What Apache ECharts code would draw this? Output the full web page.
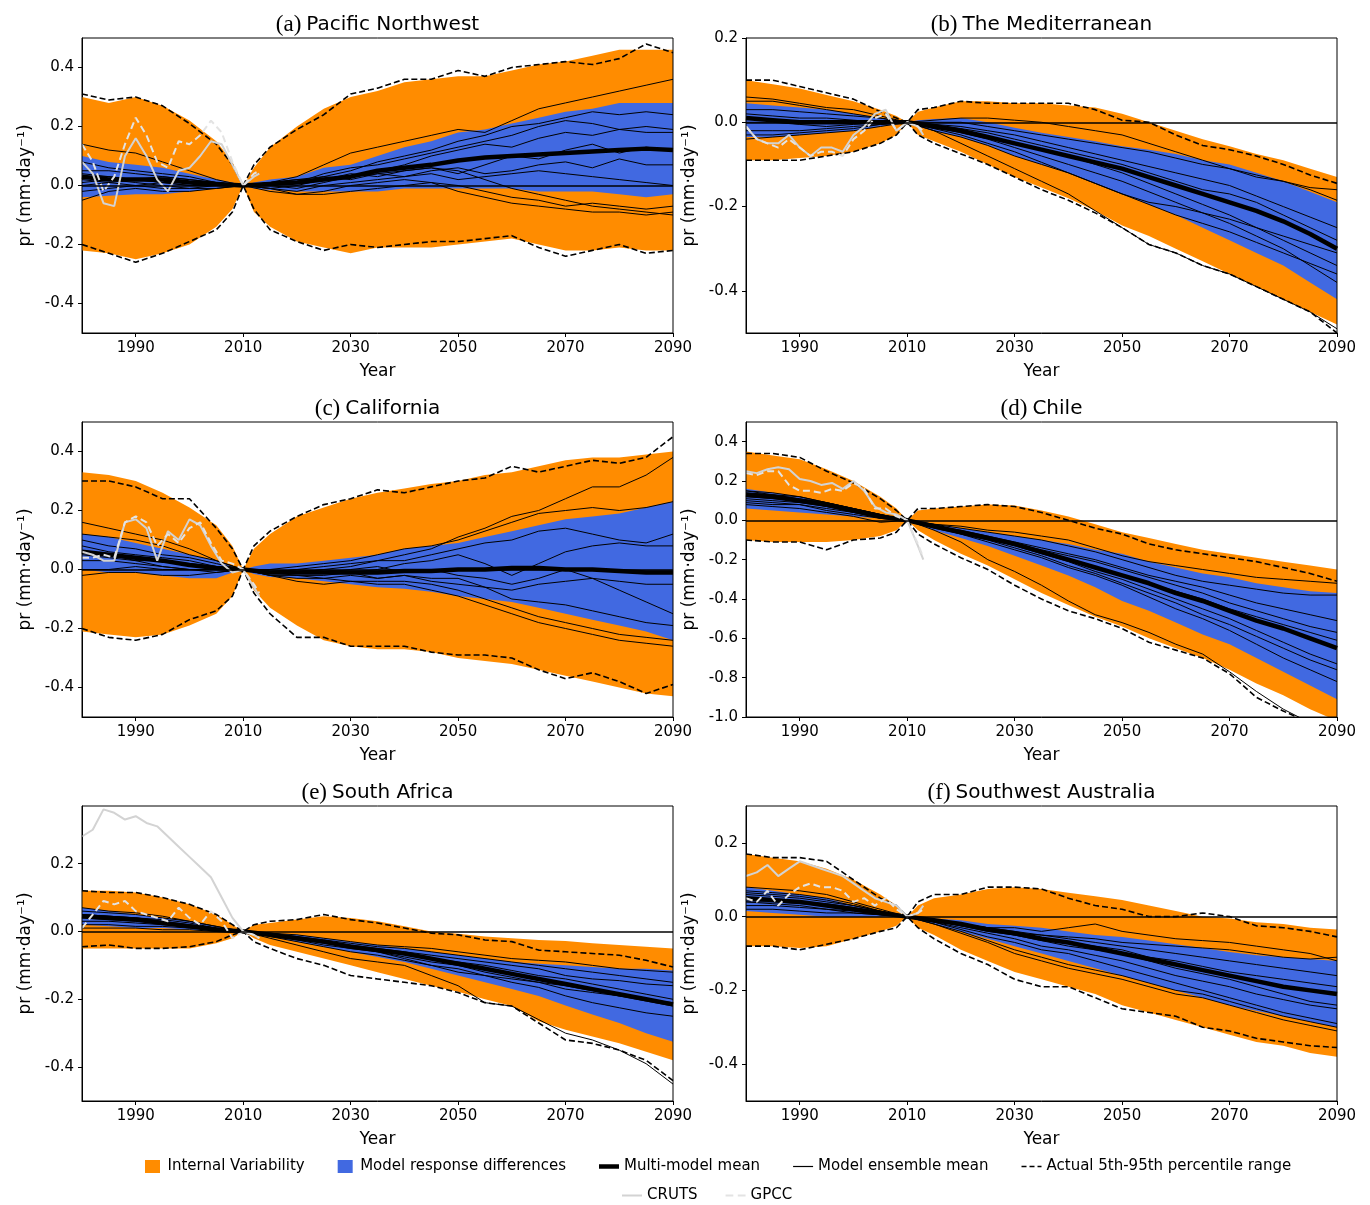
<!DOCTYPE html>
<html>
<head>
<meta charset="utf-8">
<script src="https://cdn.jsdelivr.net/npm/echarts@6/dist/echarts.min.js"></script>
<style>html,body{margin:0;padding:0;background:#fff}#chart{width:1370px;height:1205px}</style>
</head>
<body>
<div id="chart"></div>
<script>
// ---------- shared x grids ----------
const bandYears = [1980,1985,1990,1995,2000,2005,2008,2010,2012,2015,2020,2025,2030,2035,2040,2045,2050,2055,2060,2065,2070,2075,2080,2085,2090];
const lineYears = [1980,1985,1990,1995,2000,2005,2010,2015,2020,2025,2030,2035,2040,2045,2050,2055,2060,2065,2070,2075,2080,2085,2090];
const obsYears = [1980,1982,1984,1986,1988,1990,1992,1994,1996,1998,2000,2002,2004,2006,2008,2010,2012,2013];
const xTicks = [1990,2010,2030,2050,2070,2090];

// ---------- (a) Pacific Northwest ----------
const aIVUp = [0.30,0.28,0.30,0.27,0.22,0.15,0.08,0,0.06,0.13,0.20,0.26,0.30,0.32,0.35,0.36,0.37,0.37,0.39,0.41,0.42,0.44,0.46,0.46,0.46];
const aIVLo = [-0.22,-0.23,-0.25,-0.23,-0.20,-0.14,-0.08,0,-0.09,-0.14,-0.19,-0.21,-0.23,-0.21,-0.21,-0.21,-0.20,-0.19,-0.18,-0.20,-0.22,-0.22,-0.21,-0.22,-0.22];
const aMRUp = [0.10,0.08,0.07,0.06,0.04,0.02,0.01,0,0.01,0.02,0.03,0.06,0.07,0.10,0.13,0.15,0.18,0.19,0.21,0.23,0.25,0.26,0.28,0.28,0.28];
const aMRLo = [-0.04,-0.035,-0.03,-0.03,-0.02,-0.01,-0.005,0,-0.01,-0.015,-0.02,-0.02,-0.02,-0.02,-0.01,-0.01,-0.01,-0.01,-0.01,-0.02,-0.02,-0.02,-0.03,-0.04,-0.03];
const aDashUp = [0.31,0.29,0.30,0.27,0.21,0.14,0.07,0,0.07,0.13,0.19,0.24,0.31,0.33,0.36,0.36,0.39,0.37,0.40,0.41,0.42,0.41,0.43,0.48,0.45];
const aDashLo = [-0.20,-0.23,-0.26,-0.23,-0.19,-0.15,-0.09,0,-0.08,-0.15,-0.19,-0.22,-0.20,-0.21,-0.20,-0.19,-0.19,-0.18,-0.17,-0.21,-0.24,-0.22,-0.20,-0.23,-0.22];
const aMean = [0.03,0.02,0.02,0.02,0.01,0.005,0,0.005,0.01,0.02,0.03,0.05,0.06,0.07,0.085,0.095,0.10,0.105,0.11,0.115,0.12,0.125,0.12];
const aModels = [
  [0.14,0.12,0.11,0.08,0.05,0.02,0,0.01,0.03,0.07,0.11,0.13,0.15,0.17,0.19,0.18,0.22,0.26,0.28,0.30,0.32,0.34,0.36],
  [0.08,0.06,0.05,0.04,0.03,0.01,0,0.01,0.02,0.03,0.05,0.08,0.10,0.12,0.15,0.17,0.20,0.21,0.23,0.25,0.24,0.25,0.24],
  [0.05,0.05,0.04,0.03,0.02,0.01,0,0.0,0.01,0.04,0.06,0.07,0.09,0.11,0.13,0.15,0.17,0.20,0.22,0.21,0.19,0.20,0.19],
  [0.03,0.03,0.02,0.03,0.02,0.01,0,-0.01,0.00,0.02,0.03,0.05,0.07,0.10,0.12,0.14,0.13,0.16,0.18,0.17,0.19,0.18,0.18],
  [0.02,0.01,0.02,0.01,0.01,0.0,0,0.01,0.02,0.02,0.04,0.03,0.05,0.06,0.04,0.07,0.10,0.09,0.12,0.14,0.11,0.13,0.12],
  [0.0,0.01,0.0,0.01,0.0,0.0,0,0.0,0.01,0.03,0.02,0.04,0.03,0.05,0.06,0.04,0.05,0.07,0.08,0.06,0.09,0.07,0.07],
  [-0.02,-0.01,0.0,-0.01,-0.01,0.0,0,-0.01,-0.02,0.0,0.01,0.02,0.03,0.04,0.02,0.03,0.04,0.05,0.04,0.03,0.02,0.01,0.0],
  [-0.05,-0.02,-0.01,-0.02,-0.02,-0.01,0,-0.01,-0.03,-0.03,-0.02,-0.01,0.0,0.01,0.0,-0.02,-0.04,-0.05,-0.07,-0.06,-0.07,-0.08,-0.07],
  [0.01,0.02,0.01,0.0,-0.01,-0.01,0,-0.02,-0.03,-0.02,0.0,0.01,0.02,0.01,-0.02,-0.04,-0.06,-0.07,-0.08,-0.09,-0.09,-0.10,-0.09],
  [0.04,0.03,0.02,0.01,0.0,0.0,0,0.0,-0.01,0.01,0.03,0.04,0.05,0.06,0.05,0.02,-0.01,-0.03,-0.05,-0.07,-0.08,-0.09,-0.10]
];
const aCRUTS = [0.08,0.04,-0.06,-0.07,0.10,0.16,0.10,0.02,-0.02,0.05,0.06,0.10,0.15,0.14,0.07,0.0,0.03,0.04];
const aGPCC = [0.14,0.08,-0.02,0.03,0.14,0.23,0.17,0.08,0.06,0.15,0.14,0.17,0.22,0.18,0.08,0.0,0.04,0.05];
const aYTicks = [-0.4,-0.2,0,0.2,0.4];

// ---------- (b) The Mediterranean ----------
const bIVUp = [0.10,0.09,0.08,0.065,0.05,0.03,0.015,0,0.025,0.035,0.05,0.05,0.045,0.045,0.04,0.035,0.02,0.0,-0.02,-0.04,-0.057,-0.075,-0.09,-0.11,-0.13];
const bIVLo = [-0.09,-0.09,-0.085,-0.08,-0.07,-0.05,-0.03,0,-0.03,-0.045,-0.07,-0.10,-0.13,-0.155,-0.18,-0.21,-0.245,-0.27,-0.30,-0.33,-0.36,-0.39,-0.42,-0.45,-0.48];
const bMRUp = [0.045,0.04,0.035,0.03,0.02,0.01,0.005,0,0.005,0.008,0.01,0.0,-0.013,-0.025,-0.035,-0.045,-0.057,-0.065,-0.075,-0.09,-0.10,-0.12,-0.14,-0.165,-0.19];
const bMRLo = [-0.035,-0.035,-0.03,-0.025,-0.02,-0.01,-0.005,0,-0.01,-0.02,-0.035,-0.055,-0.08,-0.10,-0.12,-0.145,-0.17,-0.195,-0.22,-0.25,-0.28,-0.31,-0.34,-0.38,-0.42];
const bDashUp = [0.10,0.10,0.085,0.07,0.055,0.025,0.01,0,0.03,0.035,0.05,0.045,0.045,0.045,0.045,0.03,0.005,0.0,-0.03,-0.055,-0.065,-0.08,-0.10,-0.125,-0.145];
const bDashLo = [-0.09,-0.09,-0.09,-0.08,-0.07,-0.05,-0.03,0,-0.03,-0.05,-0.075,-0.10,-0.13,-0.16,-0.185,-0.215,-0.25,-0.29,-0.31,-0.34,-0.36,-0.39,-0.42,-0.45,-0.50];
const bMean = [0.01,0.005,0.0,0.0,0.0,0.0,0,-0.01,-0.02,-0.035,-0.05,-0.065,-0.08,-0.095,-0.11,-0.13,-0.15,-0.17,-0.19,-0.21,-0.235,-0.265,-0.30];
const bModels = [
  [0.06,0.055,0.045,0.035,0.03,0.015,0,0.005,0.01,0.01,0.005,0.0,-0.01,-0.02,-0.03,-0.05,-0.07,-0.09,-0.11,-0.13,-0.14,-0.155,-0.16],
  [0.05,0.05,0.04,0.03,0.02,0.01,0,0.0,0.0,-0.01,-0.02,-0.03,-0.04,-0.05,-0.06,-0.07,-0.085,-0.10,-0.11,-0.125,-0.14,-0.16,-0.185],
  [0.03,0.03,0.025,0.02,0.015,0.01,0,-0.005,-0.01,-0.02,-0.03,-0.045,-0.06,-0.075,-0.09,-0.105,-0.12,-0.135,-0.15,-0.175,-0.20,-0.225,-0.25],
  [0.02,0.015,0.01,0.01,0.005,0.0,0,-0.005,-0.015,-0.025,-0.04,-0.055,-0.07,-0.085,-0.10,-0.12,-0.14,-0.16,-0.17,-0.19,-0.22,-0.25,-0.28],
  [0.01,0.005,0.0,0.0,0.0,0.0,0,-0.01,-0.02,-0.035,-0.05,-0.065,-0.08,-0.10,-0.12,-0.145,-0.17,-0.195,-0.22,-0.25,-0.28,-0.31,-0.34],
  [0.0,0.0,-0.005,-0.01,-0.005,0.0,0,-0.01,-0.025,-0.04,-0.06,-0.08,-0.10,-0.12,-0.14,-0.165,-0.19,-0.215,-0.24,-0.27,-0.30,-0.34,-0.38],
  [-0.02,-0.02,-0.02,-0.015,-0.01,-0.005,0,-0.015,-0.03,-0.05,-0.07,-0.095,-0.12,-0.145,-0.17,-0.19,-0.20,-0.215,-0.23,-0.25,-0.27,-0.29,-0.31],
  [-0.03,-0.03,-0.025,-0.02,-0.015,-0.005,0,-0.02,-0.035,-0.055,-0.08,-0.10,-0.12,-0.145,-0.17,-0.195,-0.22,-0.24,-0.26,-0.285,-0.31,-0.335,-0.36],
  [-0.04,-0.035,-0.03,-0.025,-0.02,-0.01,0,-0.02,-0.05,-0.08,-0.11,-0.14,-0.17,-0.21,-0.25,-0.29,-0.31,-0.34,-0.36,-0.39,-0.42,-0.45,-0.49]
];
const bCRUTS = [-0.01,-0.04,-0.05,-0.05,-0.03,-0.06,-0.08,-0.06,-0.06,-0.07,-0.03,-0.01,0.02,0.03,-0.02,0.0,-0.01,-0.03];
const bGPCC = [-0.01,-0.04,-0.05,-0.06,-0.04,-0.06,-0.08,-0.07,-0.07,-0.08,-0.04,-0.02,0.01,0.02,-0.02,0.0,-0.01,-0.02];
const bYTicks = [-0.4,-0.2,0,0.2];

// ---------- (c) California ----------
const cIVUp = [0.33,0.32,0.30,0.26,0.21,0.15,0.08,0,0.07,0.12,0.18,0.21,0.24,0.26,0.275,0.29,0.30,0.32,0.33,0.35,0.37,0.38,0.38,0.39,0.40];
const cIVLo = [-0.21,-0.22,-0.23,-0.22,-0.19,-0.15,-0.09,0,-0.07,-0.13,-0.19,-0.24,-0.26,-0.27,-0.27,-0.28,-0.30,-0.31,-0.32,-0.34,-0.36,-0.38,-0.40,-0.42,-0.43];
const cMRUp = [0.12,0.11,0.09,0.07,0.05,0.03,0.01,0,0.01,0.02,0.02,0.03,0.04,0.05,0.07,0.08,0.09,0.11,0.13,0.15,0.17,0.18,0.19,0.21,0.23];
const cMRLo = [0.0,-0.01,-0.01,-0.02,-0.03,-0.03,-0.01,0,-0.015,-0.025,-0.03,-0.04,-0.05,-0.06,-0.065,-0.075,-0.09,-0.10,-0.11,-0.13,-0.15,-0.17,-0.19,-0.21,-0.24];
const cDashUp = [0.30,0.30,0.28,0.24,0.24,0.14,0.07,0,0.08,0.13,0.18,0.22,0.24,0.27,0.26,0.28,0.30,0.31,0.35,0.33,0.35,0.37,0.36,0.38,0.45];
const cDashLo = [-0.20,-0.23,-0.24,-0.22,-0.17,-0.14,-0.09,0,-0.08,-0.15,-0.23,-0.23,-0.26,-0.26,-0.26,-0.28,-0.29,-0.29,-0.30,-0.34,-0.37,-0.35,-0.38,-0.42,-0.39];
const cMean = [0.06,0.05,0.04,0.03,0.015,0.005,0,-0.01,-0.01,-0.01,-0.01,-0.01,-0.005,-0.005,0.0,0.0,0.005,0.005,0.0,0.0,-0.005,-0.01,-0.01];
const cModels = [
  [0.16,0.14,0.12,0.10,0.07,0.03,0,-0.01,-0.01,0.0,0.01,0.03,0.05,0.07,0.11,0.14,0.18,0.20,0.24,0.28,0.28,0.32,0.38],
  [0.12,0.11,0.10,0.08,0.05,0.03,0,0.0,0.01,0.02,0.03,0.05,0.07,0.08,0.10,0.13,0.16,0.19,0.20,0.21,0.20,0.21,0.23],
  [0.10,0.08,0.07,0.05,0.04,0.02,0,-0.01,0.0,0.01,0.02,0.03,0.03,0.05,0.07,0.09,0.10,0.13,0.14,0.12,0.10,0.09,0.12],
  [0.08,0.06,0.05,0.04,0.03,0.01,0,0.0,-0.01,0.0,-0.01,0.0,0.02,0.03,0.05,0.02,-0.02,0.02,0.06,0.08,0.09,0.08,0.08],
  [0.05,0.04,0.03,0.03,0.02,0.01,0,-0.01,-0.02,-0.02,-0.01,-0.03,-0.02,-0.04,-0.05,-0.06,-0.07,-0.05,-0.04,-0.03,-0.04,-0.05,-0.05],
  [0.03,0.03,0.02,0.01,0.0,0.0,0,-0.01,0.0,-0.01,0.0,0.01,-0.01,0.0,-0.02,-0.03,-0.05,-0.03,0.0,-0.03,-0.07,-0.11,-0.15],
  [0.0,0.0,0.01,0.0,0.0,0.0,0,-0.02,-0.02,-0.03,-0.02,-0.03,-0.02,-0.03,-0.03,-0.06,-0.10,-0.11,-0.12,-0.14,-0.16,-0.18,-0.19],
  [-0.02,-0.01,-0.01,-0.02,-0.02,-0.01,0,-0.02,-0.03,-0.03,-0.04,-0.04,-0.04,-0.05,-0.07,-0.10,-0.13,-0.16,-0.18,-0.20,-0.22,-0.23,-0.24],
  [0.06,0.05,0.03,0.01,0.0,-0.01,0,-0.02,-0.04,-0.05,-0.04,-0.05,-0.05,-0.07,-0.09,-0.12,-0.15,-0.18,-0.20,-0.22,-0.24,-0.25,-0.26]
];
const cCRUTS = [0.06,0.05,0.03,0.03,0.16,0.17,0.14,0.03,0.13,0.10,0.17,0.15,0.08,0.02,-0.01,0.0,-0.06,-0.09];
const cGPCC = [0.04,0.04,0.05,0.04,0.16,0.18,0.16,0.08,0.12,0.09,0.14,0.16,0.09,0.03,0.02,0.0,-0.05,-0.08];
const cYTicks = [-0.4,-0.2,0,0.2,0.4];

// ---------- (d) Chile ----------
const dIVUp = [0.35,0.33,0.31,0.26,0.20,0.12,0.06,0,0.05,0.06,0.07,0.08,0.075,0.05,0.02,-0.02,-0.06,-0.09,-0.12,-0.15,-0.17,-0.19,-0.21,-0.23,-0.25];
const dIVLo = [-0.10,-0.11,-0.11,-0.11,-0.10,-0.08,-0.05,0,-0.05,-0.10,-0.17,-0.23,-0.30,-0.37,-0.43,-0.49,-0.54,-0.60,-0.65,-0.70,-0.76,-0.83,-0.89,-0.96,-1.02];
const dMRUp = [0.16,0.14,0.12,0.09,0.06,0.03,0.01,0,0.0,-0.02,-0.04,-0.06,-0.08,-0.10,-0.12,-0.15,-0.17,-0.21,-0.24,-0.27,-0.29,-0.32,-0.34,-0.36,-0.37];
const dMRLo = [0.06,0.05,0.04,0.03,0.02,0.01,0.005,0,-0.02,-0.05,-0.09,-0.13,-0.18,-0.23,-0.28,-0.34,-0.41,-0.46,-0.52,-0.58,-0.63,-0.70,-0.77,-0.84,-0.91];
const dDashUp = [0.34,0.34,0.32,0.25,0.19,0.11,0.05,0,0.06,0.06,0.07,0.08,0.07,0.04,0.0,-0.04,-0.07,-0.12,-0.15,-0.17,-0.19,-0.21,-0.24,-0.27,-0.31];
const dDashLo = [-0.10,-0.11,-0.11,-0.15,-0.10,-0.09,-0.06,0,-0.07,-0.12,-0.19,-0.25,-0.33,-0.40,-0.46,-0.50,-0.55,-0.62,-0.66,-0.70,-0.78,-0.90,-0.97,-1.03,-1.08];
const dMean = [0.13,0.12,0.10,0.08,0.05,0.02,0,-0.03,-0.06,-0.09,-0.12,-0.16,-0.20,-0.24,-0.28,-0.32,-0.37,-0.41,-0.46,-0.51,-0.55,-0.60,-0.65];
const dModels = [
  [0.15,0.14,0.12,0.09,0.06,0.03,0,-0.02,-0.03,-0.05,-0.06,-0.08,-0.10,-0.14,-0.18,-0.21,-0.23,-0.25,-0.27,-0.29,-0.30,-0.31,-0.32],
  [0.14,0.13,0.11,0.09,0.06,0.03,0,-0.02,-0.04,-0.06,-0.08,-0.10,-0.13,-0.16,-0.20,-0.24,-0.28,-0.31,-0.33,-0.35,-0.37,-0.38,-0.38],
  [0.13,0.12,0.10,0.08,0.05,0.02,0,-0.03,-0.05,-0.08,-0.11,-0.14,-0.17,-0.20,-0.24,-0.28,-0.31,-0.34,-0.38,-0.42,-0.45,-0.48,-0.51],
  [0.12,0.11,0.10,0.07,0.05,0.02,0,-0.03,-0.06,-0.09,-0.12,-0.15,-0.18,-0.21,-0.25,-0.29,-0.33,-0.37,-0.42,-0.46,-0.50,-0.54,-0.57],
  [0.11,0.10,0.09,0.07,0.04,0.02,0,-0.03,-0.06,-0.09,-0.12,-0.16,-0.20,-0.24,-0.28,-0.32,-0.36,-0.40,-0.45,-0.49,-0.53,-0.57,-0.61],
  [0.10,0.09,0.08,0.06,0.04,0.01,0,-0.03,-0.06,-0.09,-0.13,-0.17,-0.21,-0.26,-0.30,-0.35,-0.40,-0.45,-0.50,-0.56,-0.62,-0.68,-0.73],
  [0.09,0.08,0.08,0.05,0.03,0.01,0,-0.03,-0.07,-0.10,-0.14,-0.18,-0.23,-0.27,-0.32,-0.37,-0.42,-0.48,-0.53,-0.59,-0.65,-0.71,-0.76],
  [0.08,0.07,0.06,0.04,0.02,-0.01,0,-0.04,-0.07,-0.11,-0.15,-0.19,-0.24,-0.28,-0.33,-0.39,-0.45,-0.50,-0.56,-0.63,-0.70,-0.76,-0.82],
  [0.15,0.13,0.12,0.09,0.06,0.03,0,-0.05,-0.11,-0.20,-0.26,-0.33,-0.41,-0.48,-0.52,-0.57,-0.63,-0.68,-0.77,-0.87,-0.96,-1.03,-1.10]
];
const dCRUTS = [0.25,0.24,0.26,0.27,0.26,0.21,0.20,0.18,0.19,0.16,0.20,0.15,0.07,0.04,0.03,0.0,-0.13,-0.20];
const dGPCC = [0.24,0.23,0.25,0.25,0.18,0.15,0.15,0.14,0.16,0.15,0.19,0.16,0.06,0.06,0.02,0.0,-0.12,-0.19];
const dYTicks = [-1.0,-0.8,-0.6,-0.4,-0.2,0,0.2,0.4];

// ---------- (e) South Africa ----------
const eIVUp = [0.12,0.12,0.115,0.10,0.08,0.05,0.02,0,0.02,0.025,0.035,0.045,0.04,0.03,0.015,0.0,-0.007,-0.015,-0.02,-0.025,-0.028,-0.035,-0.04,-0.045,-0.05];
const eIVLo = [-0.05,-0.05,-0.05,-0.05,-0.05,-0.035,-0.02,0,-0.02,-0.04,-0.06,-0.08,-0.10,-0.12,-0.14,-0.16,-0.178,-0.20,-0.22,-0.265,-0.29,-0.31,-0.33,-0.355,-0.38];
const eMRUp = [0.07,0.06,0.05,0.04,0.03,0.015,0.005,0,0.0,-0.005,-0.01,-0.02,-0.03,-0.04,-0.05,-0.06,-0.07,-0.08,-0.09,-0.095,-0.10,-0.105,-0.11,-0.11,-0.115];
const eMRLo = [0.02,0.015,0.01,0.01,0.005,0.0,0.0,0,-0.005,-0.015,-0.03,-0.045,-0.06,-0.075,-0.09,-0.11,-0.13,-0.15,-0.17,-0.19,-0.218,-0.245,-0.27,-0.30,-0.325];
const eDashUp = [0.12,0.115,0.115,0.10,0.08,0.05,0.02,0,0.02,0.03,0.035,0.05,0.035,0.025,0.01,-0.005,-0.01,-0.025,-0.03,-0.055,-0.06,-0.065,-0.07,-0.085,-0.105];
const eDashLo = [-0.045,-0.04,-0.05,-0.05,-0.045,-0.03,-0.01,0,-0.03,-0.05,-0.08,-0.10,-0.13,-0.14,-0.15,-0.16,-0.18,-0.21,-0.22,-0.27,-0.32,-0.33,-0.35,-0.38,-0.44];
const eMean = [0.045,0.04,0.035,0.025,0.015,0.005,0,-0.01,-0.02,-0.03,-0.045,-0.055,-0.065,-0.08,-0.095,-0.11,-0.125,-0.14,-0.155,-0.17,-0.185,-0.20,-0.215];
const eModels = [
  [0.07,0.06,0.055,0.045,0.03,0.015,0,-0.005,-0.01,-0.02,-0.03,-0.04,-0.045,-0.05,-0.06,-0.07,-0.08,-0.085,-0.09,-0.10,-0.11,-0.115,-0.12],
  [0.06,0.055,0.05,0.04,0.03,0.015,0,-0.005,-0.015,-0.025,-0.035,-0.045,-0.05,-0.06,-0.07,-0.08,-0.09,-0.10,-0.11,-0.12,-0.13,-0.14,-0.15],
  [0.05,0.045,0.04,0.035,0.025,0.01,0,-0.01,-0.02,-0.03,-0.04,-0.05,-0.06,-0.07,-0.08,-0.09,-0.10,-0.11,-0.13,-0.14,-0.145,-0.155,-0.16],
  [0.04,0.035,0.03,0.025,0.02,0.01,0,-0.01,-0.02,-0.035,-0.045,-0.055,-0.065,-0.08,-0.09,-0.10,-0.115,-0.13,-0.14,-0.155,-0.17,-0.185,-0.20],
  [0.03,0.03,0.025,0.02,0.015,0.005,0,-0.01,-0.025,-0.04,-0.05,-0.06,-0.075,-0.09,-0.10,-0.12,-0.135,-0.15,-0.17,-0.18,-0.19,-0.205,-0.22],
  [0.02,0.02,0.015,0.015,0.01,0.005,0,-0.015,-0.03,-0.045,-0.06,-0.07,-0.085,-0.10,-0.11,-0.13,-0.15,-0.165,-0.19,-0.21,-0.225,-0.24,-0.25],
  [0.01,0.01,0.01,0.005,0.005,0.0,0,-0.02,-0.04,-0.06,-0.08,-0.09,-0.10,-0.13,-0.16,-0.21,-0.22,-0.26,-0.30,-0.32,-0.35,-0.39,-0.45],
  [0.05,0.045,0.04,0.03,0.02,0.01,0,-0.01,-0.02,-0.03,-0.045,-0.06,-0.08,-0.10,-0.12,-0.13,-0.14,-0.15,-0.16,-0.175,-0.19,-0.20,-0.21]
];
const eCRUTS = [0.28,0.30,0.36,0.35,0.33,0.34,0.32,0.31,0.28,0.25,0.22,0.19,0.16,0.10,0.04,0.0,-0.01,-0.02];
const eGPCC = [0.01,0.05,0.09,0.08,0.09,0.06,0.05,0.04,0.03,0.07,0.04,0.02,0.06,0.03,-0.02,0.0,-0.01,-0.02];
const eYTicks = [-0.4,-0.2,0,0.2];

// ---------- (f) Southwest Australia ----------
const fIVUp = [0.17,0.16,0.15,0.13,0.10,0.06,0.03,0,0.03,0.05,0.06,0.075,0.08,0.075,0.065,0.055,0.045,0.03,0.015,0.0,-0.005,-0.015,-0.02,-0.03,-0.035];
const fIVLo = [-0.08,-0.08,-0.085,-0.08,-0.06,-0.04,-0.025,0,-0.03,-0.05,-0.09,-0.12,-0.15,-0.17,-0.19,-0.21,-0.24,-0.26,-0.28,-0.30,-0.32,-0.34,-0.35,-0.37,-0.38];
const fMRUp = [0.08,0.07,0.06,0.05,0.03,0.015,0.005,0,0.0,-0.005,-0.01,-0.02,-0.025,-0.03,-0.04,-0.05,-0.055,-0.065,-0.075,-0.085,-0.096,-0.105,-0.11,-0.115,-0.12];
const fMRLo = [0.015,0.01,0.005,0.0,0.0,0.0,0.0,0,-0.01,-0.02,-0.04,-0.06,-0.08,-0.10,-0.12,-0.14,-0.16,-0.18,-0.20,-0.22,-0.24,-0.255,-0.27,-0.285,-0.30];
const fDashUp = [0.17,0.16,0.16,0.15,0.10,0.05,0.03,0,0.04,0.06,0.06,0.08,0.08,0.075,0.05,0.03,0.02,0.0,0.0,0.01,0.0,-0.025,-0.03,-0.04,-0.055];
const fDashLo = [-0.08,-0.08,-0.09,-0.075,-0.06,-0.04,-0.03,0,-0.03,-0.06,-0.10,-0.13,-0.17,-0.19,-0.19,-0.22,-0.25,-0.26,-0.27,-0.30,-0.31,-0.33,-0.34,-0.35,-0.355];
const fMean = [0.05,0.045,0.04,0.03,0.02,0.01,0,-0.01,-0.02,-0.035,-0.045,-0.06,-0.07,-0.085,-0.10,-0.115,-0.13,-0.145,-0.16,-0.175,-0.19,-0.20,-0.21];
const fModels = [
  [0.08,0.075,0.07,0.06,0.04,0.02,0,-0.01,-0.02,-0.03,-0.03,-0.04,-0.03,-0.02,-0.04,-0.05,-0.06,-0.065,-0.07,-0.08,-0.09,-0.10,-0.12],
  [0.07,0.065,0.06,0.05,0.035,0.015,0,-0.01,-0.02,-0.03,-0.04,-0.05,-0.055,-0.06,-0.07,-0.075,-0.08,-0.085,-0.09,-0.10,-0.11,-0.115,-0.11],
  [0.065,0.06,0.055,0.045,0.03,0.015,0,-0.01,-0.02,-0.03,-0.045,-0.05,-0.06,-0.07,-0.08,-0.09,-0.10,-0.11,-0.12,-0.13,-0.14,-0.15,-0.16],
  [0.06,0.055,0.05,0.04,0.03,0.015,0,-0.01,-0.025,-0.035,-0.05,-0.06,-0.07,-0.08,-0.09,-0.11,-0.12,-0.135,-0.15,-0.16,-0.17,-0.18,-0.19],
  [0.05,0.045,0.04,0.035,0.025,0.01,0,-0.01,-0.025,-0.04,-0.05,-0.065,-0.08,-0.09,-0.10,-0.12,-0.14,-0.155,-0.17,-0.19,-0.21,-0.23,-0.24],
  [0.04,0.04,0.035,0.03,0.02,0.01,0,-0.015,-0.03,-0.045,-0.06,-0.08,-0.09,-0.105,-0.12,-0.14,-0.16,-0.175,-0.19,-0.21,-0.225,-0.24,-0.25],
  [0.03,0.03,0.025,0.02,0.015,0.005,0,-0.015,-0.035,-0.055,-0.07,-0.09,-0.10,-0.12,-0.14,-0.16,-0.18,-0.20,-0.22,-0.24,-0.26,-0.275,-0.29],
  [0.02,0.02,0.015,0.01,0.01,0.005,0,-0.02,-0.045,-0.07,-0.10,-0.12,-0.14,-0.155,-0.17,-0.19,-0.21,-0.22,-0.24,-0.26,-0.28,-0.295,-0.31],
  [0.04,0.035,0.03,0.02,0.01,0.005,0,-0.02,-0.04,-0.065,-0.09,-0.11,-0.13,-0.145,-0.16,-0.18,-0.20,-0.21,-0.23,-0.25,-0.27,-0.285,-0.30]
];
const fCRUTS = [0.11,0.12,0.14,0.11,0.13,0.15,0.14,0.13,0.12,0.11,0.09,0.07,0.05,0.04,0.03,0.0,0.01,0.03];
const fGPCC = [0.05,0.04,0.07,0.03,0.06,0.08,0.09,0.08,0.08,0.07,0.04,0.05,0.03,0.05,0.02,0.0,0.01,0.02];
const fYTicks = [-0.4,-0.2,0,0.2];

// ---------- panel specs ----------
const panels = [
  {tag:'(a)', name:'Pacific Northwest', yMin:-0.5, yMax:0.5, yTicks:aYTicks, ivUp:aIVUp, ivLo:aIVLo, mrUp:aMRUp, mrLo:aMRLo, dUp:aDashUp, dLo:aDashLo, mean:aMean, models:aModels, cruts:aCRUTS, gpcc:aGPCC},
  {tag:'(b)', name:'The Mediterranean', yMin:-0.5, yMax:0.2, yTicks:bYTicks, ivUp:bIVUp, ivLo:bIVLo, mrUp:bMRUp, mrLo:bMRLo, dUp:bDashUp, dLo:bDashLo, mean:bMean, models:bModels, cruts:bCRUTS, gpcc:bGPCC},
  {tag:'(c)', name:'California', yMin:-0.5, yMax:0.5, yTicks:cYTicks, ivUp:cIVUp, ivLo:cIVLo, mrUp:cMRUp, mrLo:cMRLo, dUp:cDashUp, dLo:cDashLo, mean:cMean, models:cModels, cruts:cCRUTS, gpcc:cGPCC},
  {tag:'(d)', name:'Chile', yMin:-1.0, yMax:0.5, yTicks:dYTicks, ivUp:dIVUp, ivLo:dIVLo, mrUp:dMRUp, mrLo:dMRLo, dUp:dDashUp, dLo:dDashLo, mean:dMean, models:dModels, cruts:dCRUTS, gpcc:dGPCC},
  {tag:'(e)', name:'South Africa', yMin:-0.5, yMax:0.37, yTicks:eYTicks, ivUp:eIVUp, ivLo:eIVLo, mrUp:eMRUp, mrLo:eMRLo, dUp:eDashUp, dLo:eDashLo, mean:eMean, models:eModels, cruts:eCRUTS, gpcc:eGPCC},
  {tag:'(f)', name:'Southwest Australia', yMin:-0.5, yMax:0.3, yTicks:fYTicks, ivUp:fIVUp, ivLo:fIVLo, mrUp:fMRUp, mrLo:fMRLo, dUp:fDashUp, dLo:fDashLo, mean:fMean, models:fModels, cruts:fCRUTS, gpcc:fGPCC}
];

const ORANGE = '#ff8c00', BLUE = '#4169e1';
const CRUTS_C = '#d3d3d3', GPCC_C = '#e3e3e3';
const FONT = 'DejaVu Sans';
const GW = 591, GH = 295;
const gridPos = [[82,38],[746,38],[82,422],[746,422],[82,806],[746,806]];

const grids = [], xAxes = [], yAxes = [], titles = [], series = [];
const pairs = (xs, ys) => xs.map((x,k)=>[x, ys[k]]);
// value first, year second (encode below) so that stacking happens on the y dimension
const vpairs = (xs, ys) => xs.map((x,k)=>[ys[k], x]);

panels.forEach((p,i)=>{
  const [L,T] = gridPos[i];
  grids.push({left:L, top:T, width:GW, height:GH, show:true, borderColor:'#000', borderWidth:1, backgroundColor:'transparent', z:10});
  titles.push({
    text:'{s|' + p.tag + '} {t|' + p.name + '}',
    left: L + GW/2 - 5, top: T - 30, textAlign:'center',
    textStyle:{fontWeight:'normal', rich:{s:{fontFamily:'Liberation Serif', fontSize:23, fontWeight:'normal', color:'#000'}, t:{fontFamily:FONT, fontSize:20, fontWeight:'normal', color:'#000'}}}
  });
  xAxes.push({
    type:'value', gridIndex:i, min:1980, max:2090,
    axisLine:{show:true, onZero:false, lineStyle:{color:'#000', width:1}},
    axisTick:{show:true, customValues:xTicks, length:4, lineStyle:{color:'#000'}},
    axisLabel:{customValues:xTicks, color:'#000', fontSize:15, fontFamily:FONT, margin:8, formatter:v=>String(v)},
    splitLine:{show:false},
    name:'Year', nameLocation:'middle', nameGap:30,
    nameTextStyle:{fontSize:17, color:'#000', fontFamily:FONT}
  });
  yAxes.push({
    type:'value', gridIndex:i, min:p.yMin, max:p.yMax,
    axisLine:{show:true, onZero:false, lineStyle:{color:'#000', width:1}},
    axisTick:{show:true, customValues:p.yTicks, length:4, lineStyle:{color:'#000'}},
    axisLabel:{customValues:p.yTicks, color:'#000', fontSize:15, fontFamily:FONT, margin:8, formatter:v=>v.toFixed(1)},
    splitLine:{show:false},
    name:'pr (mm·day⁻¹)', nameLocation:'middle', nameGap:48, nameRotate:90,
    nameTextStyle:{fontSize:17, color:'#000', fontFamily:FONT}
  });
  const base = {type:'line', xAxisIndex:i, yAxisIndex:i, symbol:'none', showSymbol:false, silent:true, animation:false};
  const band = {encode:{x:1, y:0}, stackStrategy:'all'};
  // internal variability band (lower edge + stacked thickness)
  series.push(Object.assign({}, base, band, {name:'_ivlo'+i, stack:'iv'+i, data:vpairs(bandYears, p.ivLo), lineStyle:{opacity:0, width:0}}));
  series.push(Object.assign({}, base, band, {name:'Internal Variability', stack:'iv'+i, data:vpairs(bandYears, p.ivUp.map((v,k)=>v - p.ivLo[k])), lineStyle:{opacity:0, width:0}, itemStyle:{color:ORANGE}, areaStyle:{color:ORANGE, opacity:1}}));
  // model response band
  series.push(Object.assign({}, base, band, {name:'_mrlo'+i, stack:'mr'+i, data:vpairs(bandYears, p.mrLo), lineStyle:{opacity:0, width:0}}));
  series.push(Object.assign({}, base, band, {name:'Model response differences', stack:'mr'+i, data:vpairs(bandYears, p.mrUp.map((v,k)=>v - p.mrLo[k])), lineStyle:{opacity:0, width:0}, itemStyle:{color:BLUE}, areaStyle:{color:BLUE, opacity:1}}));
  // model ensemble means
  p.models.forEach((m,j)=>{
    const s = Object.assign({}, base, {name:'Model ensemble mean', data:pairs(lineYears, m), itemStyle:{color:'#000'}, lineStyle:{color:'#000', width:1}});
    if (j === 0) s.markLine = {silent:true, symbol:'none', label:{show:false}, lineStyle:{color:'#000', width:1.5, type:'solid'}, data:[{yAxis:0}], animation:false};
    series.push(s);
  });
  // multi-model mean
  series.push(Object.assign({}, base, {name:'Multi-model mean', data:pairs(lineYears, p.mean), itemStyle:{color:'#000'}, lineStyle:{color:'#000', width:4.5}}));
  // actual 5th-95th
  series.push(Object.assign({}, base, {name:'Actual 5th-95th percentile range', data:pairs(bandYears, p.dUp), itemStyle:{color:'#000'}, lineStyle:{color:'#000', width:1.6, type:[6,3]}}));
  series.push(Object.assign({}, base, {name:'Actual 5th-95th percentile range', data:pairs(bandYears, p.dLo), itemStyle:{color:'#000'}, lineStyle:{color:'#000', width:1.6, type:[6,3]}}));
  // observations
  series.push(Object.assign({}, base, {name:'CRUTS', data:pairs(obsYears, p.cruts), itemStyle:{color:CRUTS_C}, lineStyle:{color:CRUTS_C, width:2}}));
  series.push(Object.assign({}, base, {name:'GPCC', data:pairs(obsYears, p.gpcc), itemStyle:{color:GPCC_C}, lineStyle:{color:GPCC_C, width:2, type:[7,4]}}));
});

const sq = 'path://M0,0L15,0L15,13L0,13Z';
const thinLine = 'path://M0,0L20,0L20,1.2L0,1.2Z';
const thickLine = 'path://M0,0L20,0L20,4.5L0,4.5Z';
const obsLine = 'path://M0,0L20,0L20,2L0,2Z';
const dashLine = 'path://M0,0L5,0L5,1.6L0,1.6Z M8,0L13,0L13,1.6L8,1.6Z M16,0L20,0L20,1.6L16,1.6Z';
const obsDash = 'path://M0,0L7,0L7,2L0,2Z M11,0L18,0L18,2L11,2Z';
const legendText = {fontSize:15, fontFamily:FONT, color:'#000'};
const option = {
  backgroundColor:'#fff',
  animation:false,
  title: titles,
  grid: grids,
  xAxis: xAxes,
  yAxis: yAxes,
  legend: [
    {data:[{name:'Internal Variability', icon:sq}, {name:'Model response differences', icon:sq},
           {name:'Multi-model mean', icon:thickLine}, {name:'Model ensemble mean', icon:thinLine},
           {name:'Actual 5th-95th percentile range', icon:dashLine}],
     left:140, top:1154, itemWidth:20, itemHeight:13, itemGap:33, selectedMode:false, textStyle:legendText},
    {data:[{name:'CRUTS', icon:obsLine}, {name:'GPCC', icon:obsDash}],
     left:617, top:1183, itemWidth:20, itemHeight:13, itemGap:28, selectedMode:false, textStyle:legendText}
  ],
  series: series
};
const chart = echarts.init(document.getElementById('chart'), null, {renderer:'canvas'});
chart.setOption(option);
</script>
</body>
</html>
